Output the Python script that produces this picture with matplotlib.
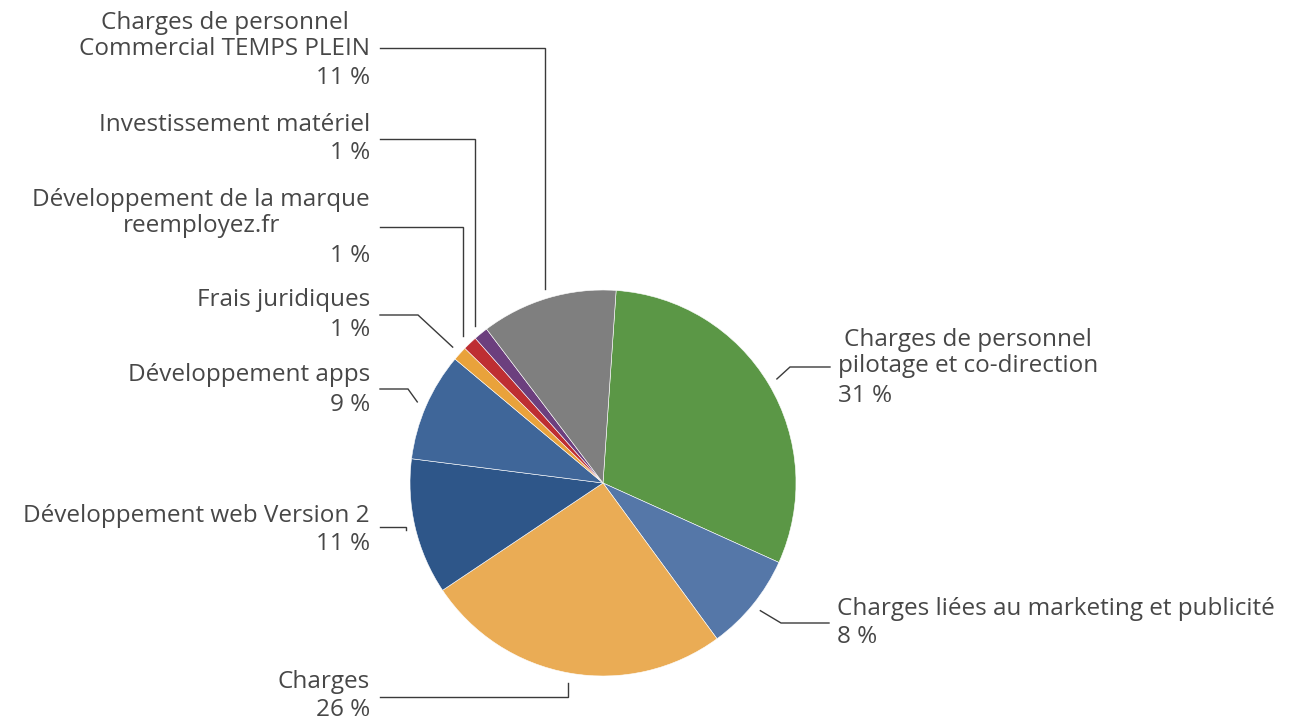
import numpy as np
import matplotlib.pyplot as plt

# Répartition des charges (parts, en %)
categories = [
    "Charges de personnel\npilotage et co-direction",
    "Charges liées au marketing et publicité",
    "Charges",
    "Développement web Version 2",
    "Développement apps",
    "Frais juridiques",
    "Développement de la marque\nreemployez.fr",
    "Investissement matériel",
    "Charges de personnel\nCommercial TEMPS PLEIN",
]
shares = [30.7, 8.2, 25.7, 11.4, 9.1, 1.2, 1.2, 1.2, 11.4]
pct_labels = ["31 %", "8 %", "26 %", "11 %", "9 %", "1 %", "1 %", "1 %", "11 %"]
colors = ["#5b9746", "#5577a8", "#eaac55", "#2e5689", "#3f6699",
          "#e9a23b", "#be2e32", "#6c3f7e", "#7f7f7f"]

# mise en page des étiquettes (pixels, origine en haut à gauche)
# side, text anchor x, category y, percent y, leader y, elbow x (None = vertical)
label_layout = [
    ("R", 838, 353, 396, 367, 790),
    ("R", 837, 609, 637, 623, 781),
    ("L", 370, 682, 710, 697, None),
    ("L", 370, 516, 544, 527, None),
    ("L", 370, 375, 405, 389, 408),
    ("L", 370, 300, 330, 315, 418),
    ("L", 370, 213, 256, 227, None),
    ("L", 370, 125, 153, 139, None),
    ("L", 370, 36, 78, 48, None),
]

W, H = 1293, 721
cx, cy, radius = 603, 483, 193
start_angle = 86.1

plt.rcParams['font.family'] = ['Open Sans', 'DejaVu Sans']
text_color = "#474747"

fig = plt.figure(figsize=(W / 100, H / 100), dpi=100)
ax = fig.add_axes([0, 0, 1, 1])

# the y axis is flipped (pixel coords), so angles run mirrored
wedges, _ = ax.pie(shares, colors=colors, startangle=-start_angle, counterclock=True,
                   center=(cx, cy), radius=radius,
                   wedgeprops=dict(edgecolor='white', linewidth=0.4))
ax.set_xlim(0, W)
ax.set_ylim(H, 0)
ax.set_aspect('equal')
ax.axis('off')

for w, cat, pct, lay in zip(wedges, categories, pct_labels, label_layout):
    side, tx, ty_cat, ty_pct, ly, ex = lay
    mid = np.deg2rad((w.theta1 + w.theta2) / 2)
    ax_x = cx + radius * 1.05 * np.cos(mid)
    ax_y = cy + radius * 1.05 * np.sin(mid)
    if ex is None:
        ex = ax_x
    end_x = tx - 8 if side == "R" else tx + 10
    ax.plot([ax_x, ex, end_x], [ax_y, ly, ly], color="#3a3a3a", lw=1.0,
            solid_joinstyle='miter')
    ha = 'right' if side == "L" else 'left'
    ax.text(tx, ty_cat, cat, ha=ha, va='center', multialignment='center',
            fontsize=17.5, color=text_color, linespacing=1.15)
    ax.text(tx, ty_pct, pct, ha=ha, va='center',
            fontsize=17.5, color=text_color)

fig.savefig("out.png", dpi=100)
